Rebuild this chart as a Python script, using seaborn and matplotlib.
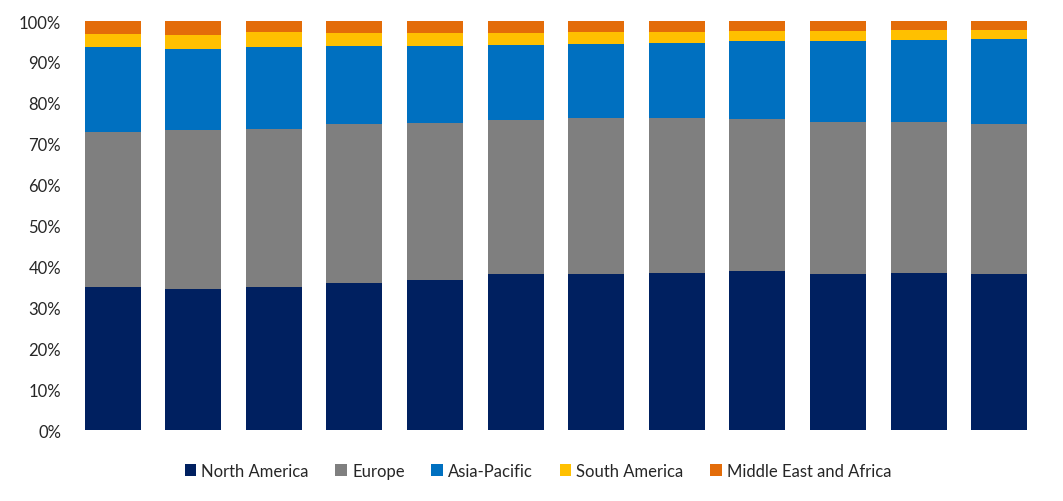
import pandas as pd
import numpy as np
import matplotlib
matplotlib.use('Agg')
import matplotlib.pyplot as plt
import seaborn as sns
from matplotlib.patches import Patch
from matplotlib.ticker import PercentFormatter

periods = [str(i) for i in range(1, 13)]
north_america = [35.0, 34.5, 35.0, 35.9, 36.7, 38.1, 38.1, 38.4, 38.9, 38.1, 38.4, 38.1]
europe = [37.9, 38.8, 38.6, 38.9, 38.4, 37.7, 38.2, 37.9, 37.1, 37.2, 36.9, 36.7]
asia_pacific = [20.7, 19.9, 20.0, 19.1, 18.8, 18.3, 18.1, 18.3, 19.1, 19.8, 20.1, 20.8]
south_america = [3.2, 3.4, 3.7, 3.2, 3.2, 3.0, 2.9, 2.7, 2.5, 2.5, 2.4, 2.2]
mea = [3.2, 3.4, 2.7, 2.9, 2.9, 2.9, 2.7, 2.7, 2.4, 2.4, 2.2, 2.2]

regions = ['North America', 'Europe', 'Asia-Pacific', 'South America', 'Middle East and Africa']
colors = ['#002060', '#7f7f7f', '#0070c0', '#ffc000', '#e36c09']

df = pd.DataFrame({'period': periods,
                   'North America': north_america,
                   'Europe': europe,
                   'Asia-Pacific': asia_pacific,
                   'South America': south_america,
                   'Middle East and Africa': mea})
# normalise to 100%
df[regions] = df[regions].div(df[regions].sum(axis=1), axis=0)
cum = df[regions].cumsum(axis=1)

sns.set_style('white')
plt.rcParams['font.family'] = ['Lato', 'DejaVu Sans']

fig = plt.figure(figsize=(10.63, 5.02), dpi=100)
ax = fig.add_axes([0.068, 0.1414, 0.910, 0.8146])

# draw from the top of the stack down so each layer covers the one above
for reg, col in reversed(list(zip(regions, colors))):
    sns.barplot(x=df['period'], y=cum[reg], color=col, width=0.695,
                saturation=1, ax=ax, edgecolor='none')

ax.set_ylim(0, 1)
ax.set_yticks(np.arange(0, 1.01, 0.1))
ax.yaxis.set_major_formatter(PercentFormatter(1.0, decimals=0))
ax.set_xticklabels([])
ax.set_xlabel('')
ax.set_ylabel('')
ax.tick_params(axis='y', labelsize=12, colors='#262626', length=0, pad=8)
ax.tick_params(axis='x', length=0)
for s in ax.spines.values():
    s.set_visible(False)

handles = [Patch(facecolor=c, edgecolor='none') for c in colors]
fig.legend(handles, regions, loc='center', bbox_to_anchor=(0.506, 0.06), ncol=5,
           frameon=False, fontsize=12, handlelength=0.7, handleheight=0.7,
           handletextpad=0.3, columnspacing=1.6, labelcolor='#262626')

fig.savefig('out.png', dpi=100)
